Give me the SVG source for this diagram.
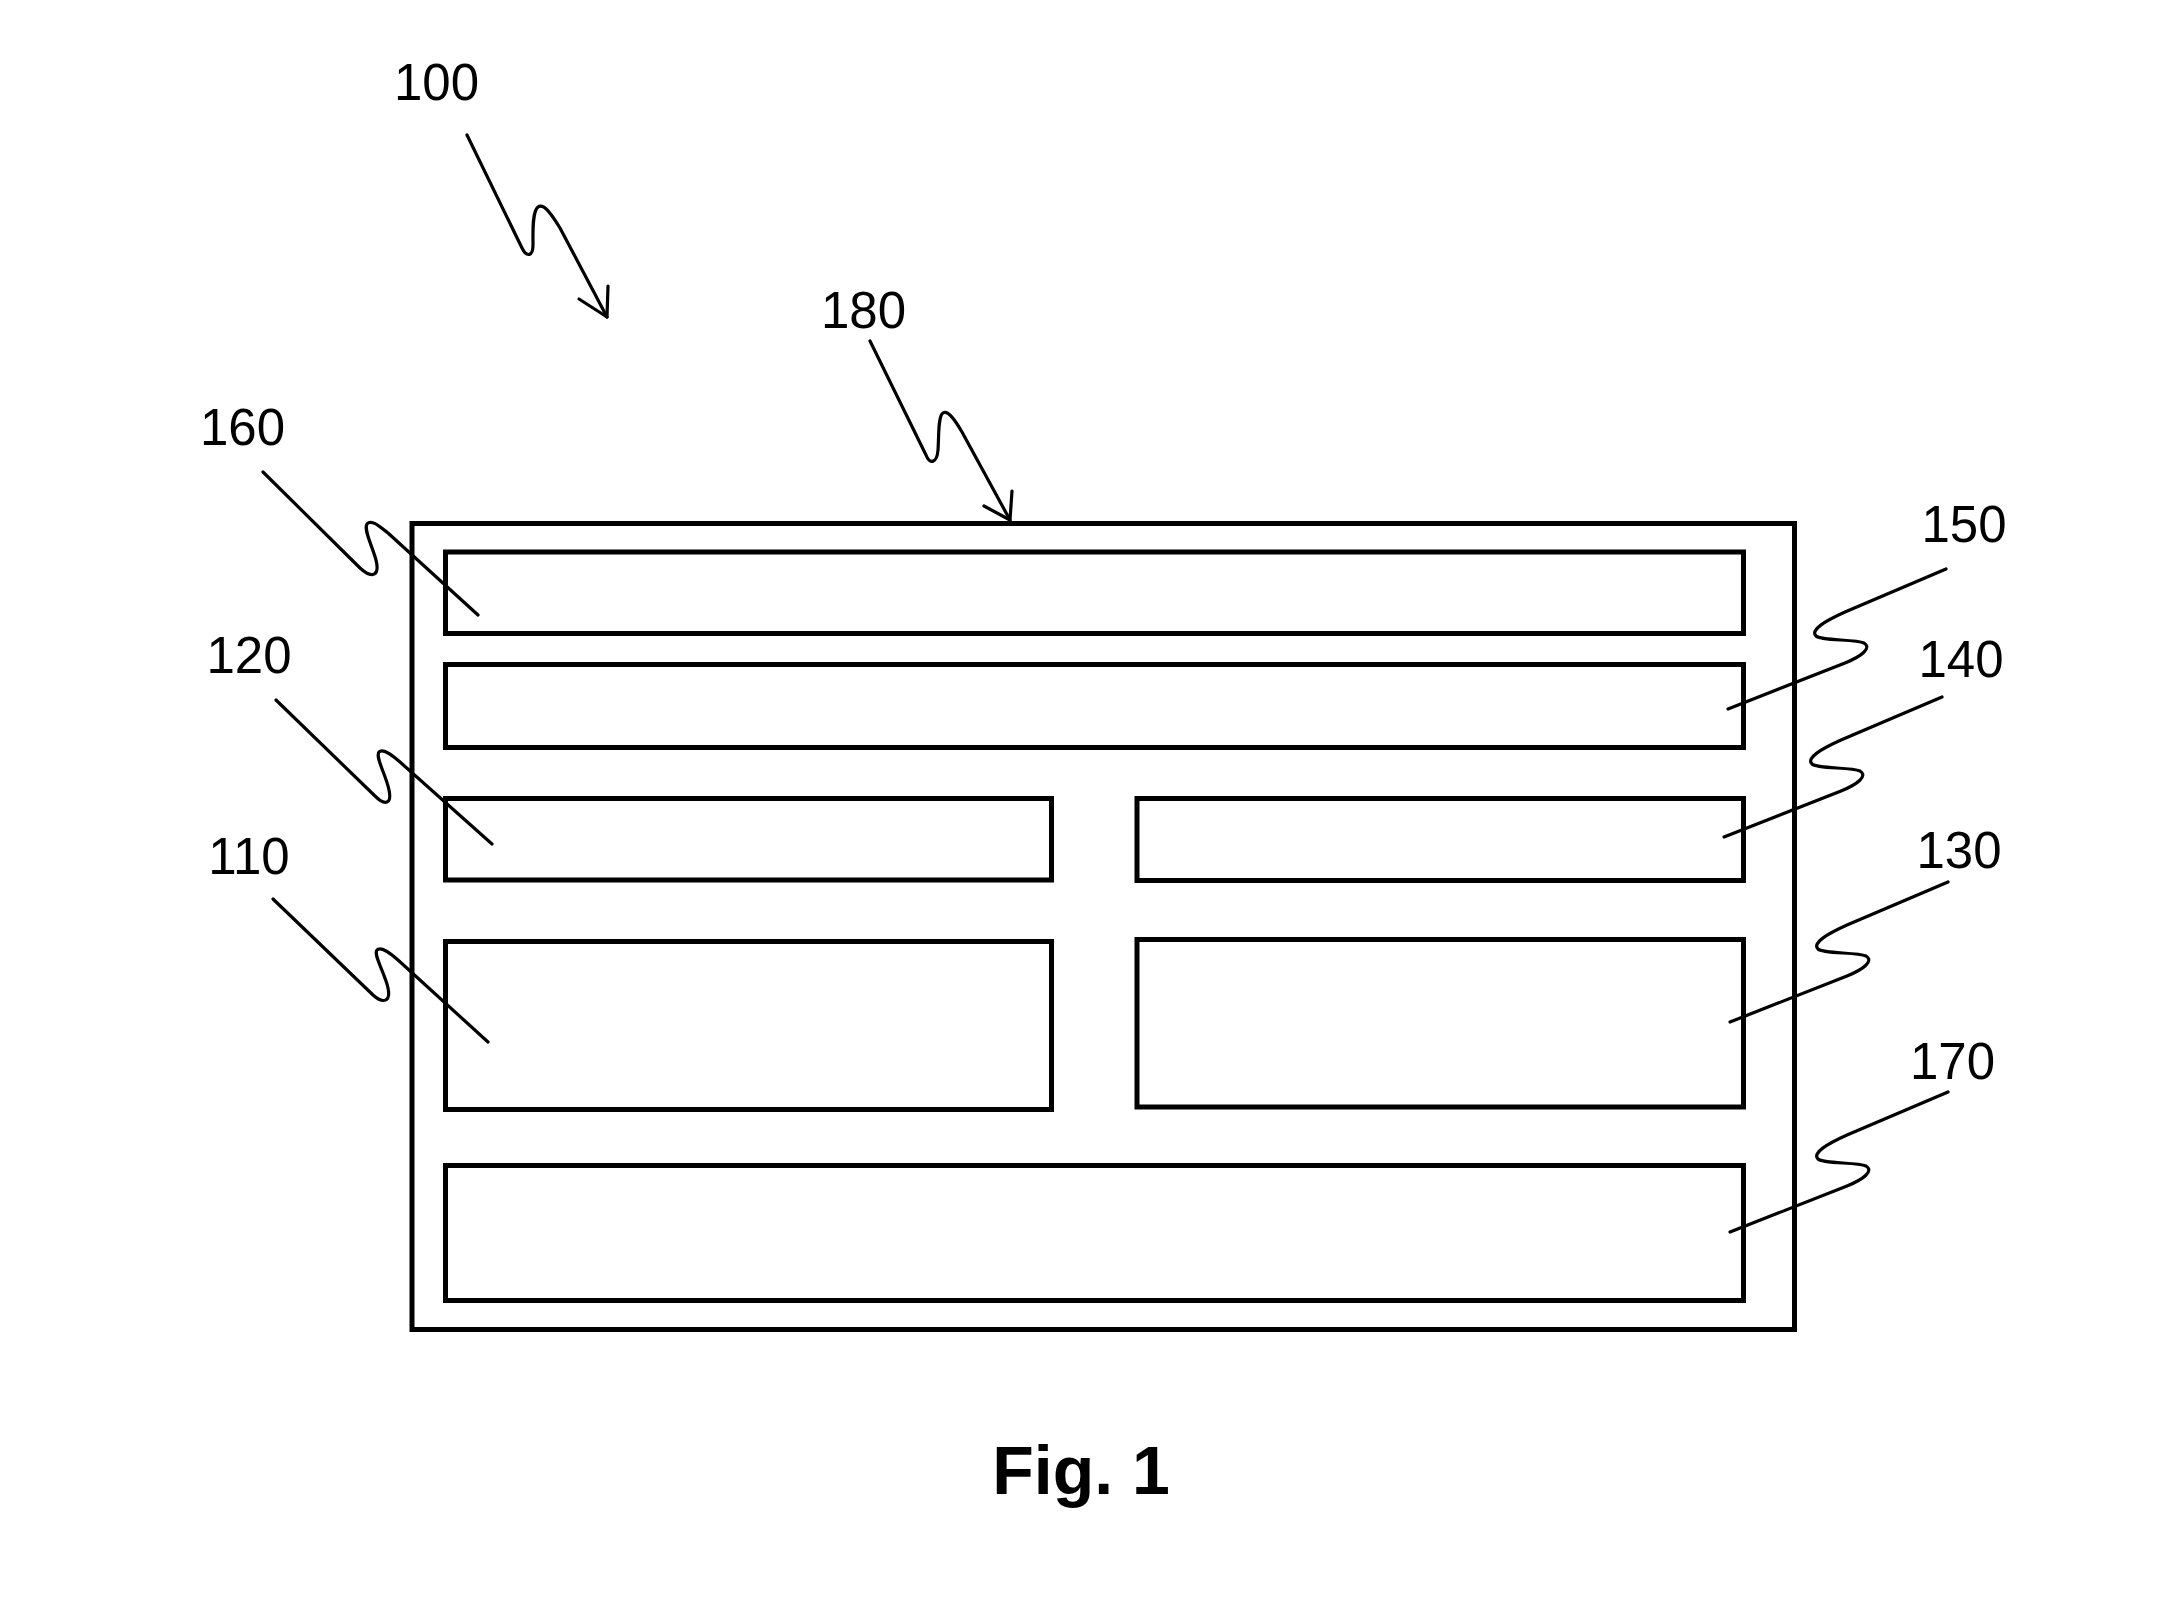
<svg xmlns="http://www.w3.org/2000/svg" width="2163" height="1597" viewBox="0 0 2163 1597">
<style>
.box{fill:none;stroke:#000;stroke-width:5}
.ld{fill:none;stroke:#000;stroke-width:3.2;stroke-linecap:round;stroke-linejoin:round}
.lbl{font-family:"Liberation Sans",Arial,sans-serif;font-size:51px;fill:#000;text-anchor:middle}
.fig{font-family:"Liberation Sans",Arial,sans-serif;font-size:68px;font-weight:bold;fill:#000;text-anchor:middle}
</style>
<rect width="2163" height="1597" fill="#fff"/>
<g id="n180"><rect class="box" x="412" y="523.5" width="1382.5" height="806"/></g>
<g id="n160"><rect class="box" x="445.5" y="552" width="1298" height="81.5"/></g>
<g id="n150"><rect class="box" x="445.5" y="664.5" width="1298" height="83"/></g>
<g id="n120"><rect class="box" x="445.5" y="798.5" width="606" height="81.5"/></g>
<g id="n140"><rect class="box" x="1137" y="798.5" width="606.5" height="82"/></g>
<g id="n110"><rect class="box" x="445.5" y="941.5" width="606" height="168"/></g>
<g id="n130"><rect class="box" x="1137" y="939.5" width="606.5" height="167.5"/></g>
<g id="n170"><rect class="box" x="445.5" y="1165.5" width="1298" height="135"/></g>
<g id="connectors">
<path class="ld" d="M467,135 L522,248 C527,258 533,256 533,245 C533,232 532,212 538,207 C544,203 552,215 560,228 L607,317"/>
<path class="ld" d="M579,299 L607,317 L608,286"/>
<path class="ld" d="M870,341 L926,455 C930,465 937,463 938,450 C939,435 938,416 943,413 C948,410 955,420 962,432 L1010,520"/>
<path class="ld" d="M984,506 L1010,520 L1012,491"/>
<path class="ld" d="M263,472 L360,568 C372,579 380,576 376,560 C372,545 362,527 368,523 C373,520 380,527 388,533 L478,615"/>
<path class="ld" d="M276,700 L375,796 C385,806 392,804 389,790 C386,775 375,757 379,752 C383,748 392,755 400,762 L492,844"/>
<path class="ld" d="M273,899 L373,995 C383,1004 391,1002 388,988 C385,973 373,955 377,950 C381,946 390,953 398,960 L488,1042"/>
<path class="ld" d="M1946,569 L1845,612 C1825,621 1810,630 1816,636 C1821,641 1855,639 1864,643 C1872,648 1862,656 1845,663 L1728,709"/>
<path class="ld" transform="translate(-4,128)" d="M1946,569 L1845,612 C1825,621 1810,630 1816,636 C1821,641 1855,639 1864,643 C1872,648 1862,656 1845,663 L1728,709"/>
<path class="ld" transform="translate(2,313)" d="M1946,569 L1845,612 C1825,621 1810,630 1816,636 C1821,641 1855,639 1864,643 C1872,648 1862,656 1845,663 L1728,709"/>
<path class="ld" transform="translate(2,523)" d="M1946,569 L1845,612 C1825,621 1810,630 1816,636 C1821,641 1855,639 1864,643 C1872,648 1862,656 1845,663 L1728,709"/>
</g>
<g id="labels">
<text class="lbl" x="436.5" y="100">100</text>
<text class="lbl" x="863.5" y="328">180</text>
<text class="lbl" x="242.5" y="445">160</text>
<text class="lbl" x="249" y="673">120</text>
<text class="lbl" x="249" y="874">110</text>
<text class="lbl" x="1964" y="542">150</text>
<text class="lbl" x="1961" y="677">140</text>
<text class="lbl" x="1959" y="868">130</text>
<text class="lbl" x="1952.5" y="1079">170</text>
<text class="fig" x="1081" y="1494">Fig. 1</text>
</g>
</svg>
